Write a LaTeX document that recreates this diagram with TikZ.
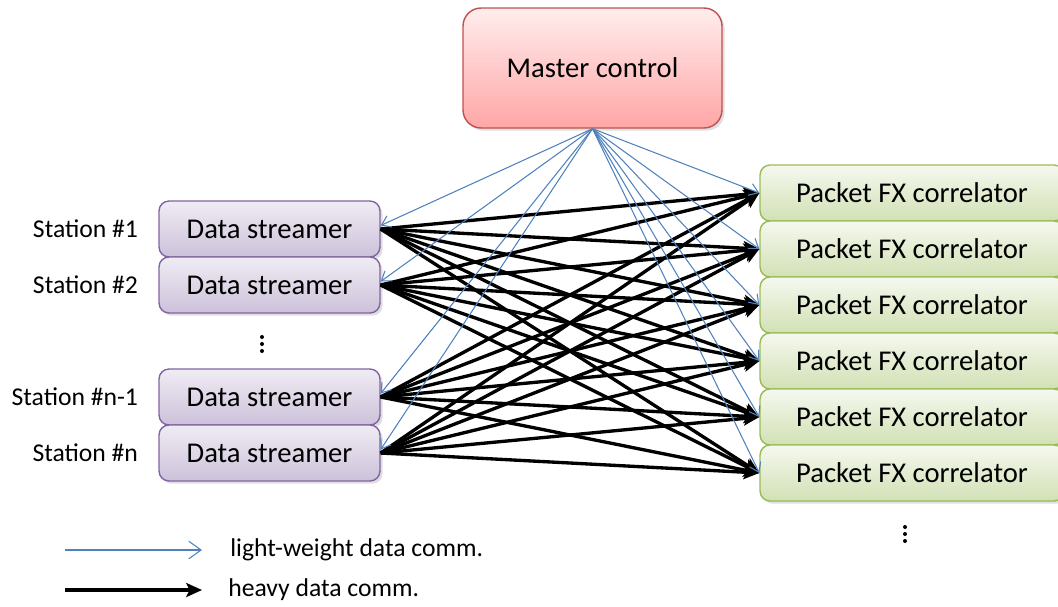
\documentclass[tikz,border=0pt]{standalone}
\usepackage{fontspec}
\setmainfont{Carlito}
\usetikzlibrary{positioning,arrows.meta,shadows}

\definecolor{lightblue}{HTML}{4F81BD}
\definecolor{mcborder}{HTML}{C0504D}
\definecolor{dsborder}{HTML}{8064A2}
\definecolor{pcborder}{HTML}{9BBB59}

\tikzset{
  box/.style={rounded corners=0.2cm, line width=0.8pt, align=center,
    font=\fontsize{16.3}{19}\selectfont,
    drop shadow={opacity=0.25, shadow xshift=1.5pt, shadow yshift=-1.5pt}},
  master/.style={box, rounded corners=0.36cm, draw=mcborder,
    top color=red!7, bottom color=red!35,
    minimum width=5.18cm, minimum height=2.4cm},
  streamer/.style={box, draw=dsborder,
    top color=dsborder!12, bottom color=dsborder!40,
    minimum width=4.42cm, minimum height=1.12cm},
  correlator/.style={box, draw=pcborder,
    top color=pcborder!10, bottom color=pcborder!45,
    minimum width=6.08cm, minimum height=1.12cm},
  station/.style={font=\fontsize{14.6}{17}\selectfont, inner sep=0pt},
  legendtext/.style={font=\fontsize{14.6}{17}\selectfont, inner sep=0pt, anchor=west},
  light/.style={lightblue, line width=0.6pt, -{Straight Barb[length=5pt,width=7pt]}},
  heavy/.style={black, line width=1.9pt, -{Stealth[length=9pt,width=8pt,inset=2pt]}},
  vdot/.style={fill=black}
}

\begin{document}
\begin{tikzpicture}[x=0.02cm, y=-0.02cm]

    \useasboundingbox (0,0) rectangle (1058,606);

    % Master control
    \node[master] (mc) at (592.5,68) {Master control};

    % Data streamers (one per station)
    \node[streamer] (ds1) at (269.5,229) {Data streamer};
    \node[streamer] (ds2) at (269.5,285) {Data streamer};
    \node[streamer] (ds3) at (269.5,397) {Data streamer};
    \node[streamer] (ds4) at (269.5,453) {Data streamer};

    % Station labels
    \node[station, left=0.4cm of ds1] (st1) {Station \#1};
    \node[station, left=0.4cm of ds2] (st2) {Station \#2};
    \node[station, left=0.4cm of ds3] (st3) {Station \#n-1};
    \node[station, left=0.4cm of ds4] (st4) {Station \#n};

    % Packet FX correlators
    \node[correlator] (pc1) at (912,193) {Packet FX correlator};
    \node[correlator] (pc2) at (912,249) {Packet FX correlator};
    \node[correlator] (pc3) at (912,305) {Packet FX correlator};
    \node[correlator] (pc4) at (912,361) {Packet FX correlator};
    \node[correlator] (pc5) at (912,417) {Packet FX correlator};
    \node[correlator] (pc6) at (912,473) {Packet FX correlator};

    % Vertical dots (more stations / more correlators)
    \fill[vdot] (262,337) circle (2); \fill[vdot] (262,344) circle (2); \fill[vdot] (262,351) circle (2);
    \fill[vdot] (905,527) circle (2); \fill[vdot] (905,534) circle (2); \fill[vdot] (905,541) circle (2);

    % Heavy data: every streamer to every correlator
    \draw[heavy] (ds1.east) -- (pc1.west); \draw[heavy] (ds1.east) -- (pc2.west);
    \draw[heavy] (ds1.east) -- (pc3.west); \draw[heavy] (ds1.east) -- (pc4.west);
    \draw[heavy] (ds1.east) -- (pc5.west); \draw[heavy] (ds1.east) -- (pc6.west);
    \draw[heavy] (ds2.east) -- (pc1.west); \draw[heavy] (ds2.east) -- (pc2.west);
    \draw[heavy] (ds2.east) -- (pc3.west); \draw[heavy] (ds2.east) -- (pc4.west);
    \draw[heavy] (ds2.east) -- (pc5.west); \draw[heavy] (ds2.east) -- (pc6.west);
    \draw[heavy] (ds3.east) -- (pc1.west); \draw[heavy] (ds3.east) -- (pc2.west);
    \draw[heavy] (ds3.east) -- (pc3.west); \draw[heavy] (ds3.east) -- (pc4.west);
    \draw[heavy] (ds3.east) -- (pc5.west); \draw[heavy] (ds3.east) -- (pc6.west);
    \draw[heavy] (ds4.east) -- (pc1.west); \draw[heavy] (ds4.east) -- (pc2.west);
    \draw[heavy] (ds4.east) -- (pc3.west); \draw[heavy] (ds4.east) -- (pc4.west);
    \draw[heavy] (ds4.east) -- (pc5.west); \draw[heavy] (ds4.east) -- (pc6.west);

    % Light-weight data: master control to all units
    \draw[light] (mc.south) -- ([yshift=2pt]ds1.east);
    \draw[light] (mc.south) -- ([yshift=2pt]ds2.east);
    \draw[light] (mc.south) -- ([yshift=2pt]ds3.east);
    \draw[light] (mc.south) -- ([yshift=2pt]ds4.east);
    \draw[light] (mc.south) -- (pc1.west);
    \draw[light] (mc.south) -- (pc2.west);
    \draw[light] (mc.south) -- (pc3.west);
    \draw[light] (mc.south) -- (pc4.west);
    \draw[light] (mc.south) -- (pc5.west);
    \draw[light] (mc.south) -- (pc6.west);

    % Legend
    \coordinate (l1a) at (65,550);  \coordinate (l1b) at (202,550);
    \coordinate (l2a) at (65,590);  \coordinate (l2b) at (202,590);
    \draw[light, -{Straight Barb[length=7pt,width=10pt]}] (l1a) -- (l1b);
    \draw[heavy] (l2a) -- (l2b);
    \node[legendtext] (lg1) at (230,550) {light-weight data comm.};
    \node[legendtext] (lg2) at (228,590) {heavy data comm.};

\end{tikzpicture}
\end{document}
